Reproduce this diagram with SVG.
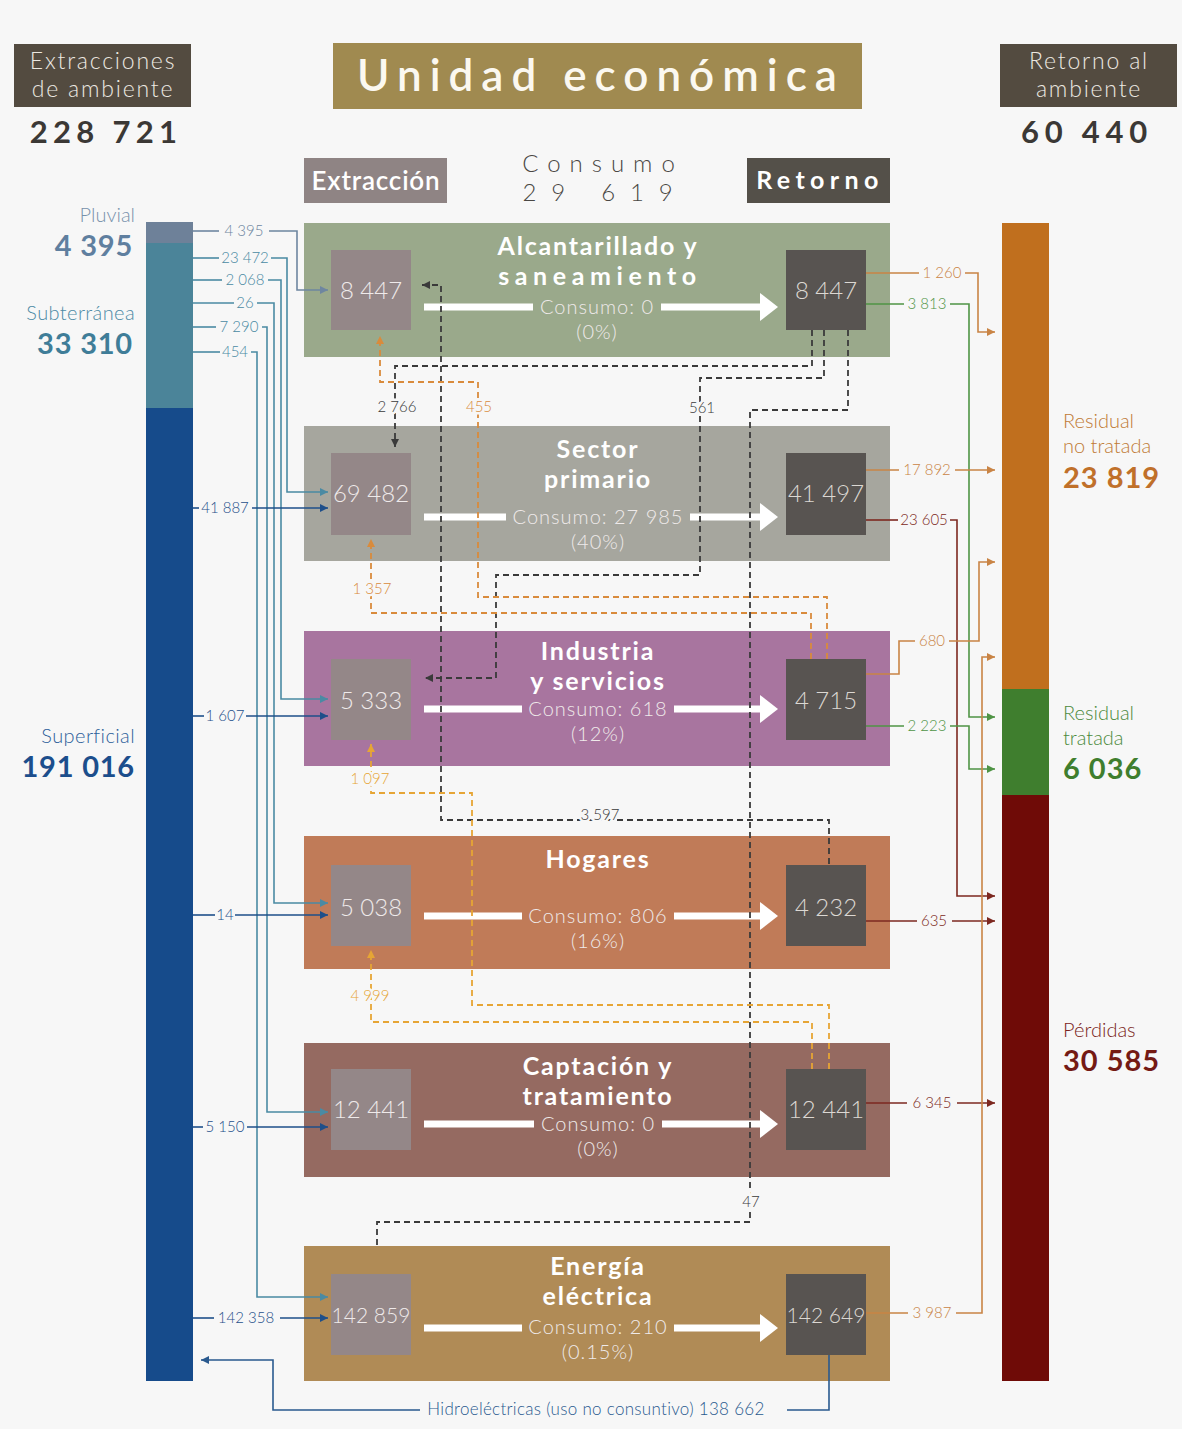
<svg xmlns="http://www.w3.org/2000/svg" width="1182" height="1429" viewBox="0 0 1182 1429">
<defs>
<style>
text{font-family:Lato,'Open Sans','DejaVu Sans',sans-serif}
.hdr{fill:#534b40}
.hdrt{fill:#ece8e0;font-size:23px;font-weight:300;text-anchor:middle;letter-spacing:1.8px}
.big{font-size:31px;font-weight:700;fill:#3b3835;text-anchor:middle}
.ttl{fill:#fff;font-size:25px;font-weight:700;text-anchor:middle;letter-spacing:1.8px}
.num{fill:#efeaea;font-size:24px;font-weight:300;text-anchor:middle}
.numR{fill:#dcd8d3;font-size:24px;font-weight:300;text-anchor:middle}
.con{fill:#efeaea;font-size:20px;font-weight:300;text-anchor:middle;letter-spacing:1px}
.inL{fill:#948788}
.inR{fill:#585451}
.arw{stroke:#fff;stroke-width:7;fill:none}
.ah{fill:#fff}
.ln{fill:none;stroke-width:1.6}
.sm{font-size:15px;text-anchor:middle;font-weight:300}
.dl{fill:none;stroke-width:1.8;stroke-dasharray:6 4}
.halo{stroke:#f7f7f7;stroke-width:5;paint-order:stroke}
.lbl{font-size:20px;font-weight:300}
.lblb{font-size:29px;font-weight:700}
</style>
<marker id="mPl" viewBox="0 0 10 10" refX="10" refY="5" markerWidth="8" markerHeight="8" markerUnits="userSpaceOnUse" orient="auto"><path d="M0,0L10,5L0,10z" fill="#6e86a0"/></marker>
<marker id="mTl" viewBox="0 0 10 10" refX="10" refY="5" markerWidth="8" markerHeight="8" markerUnits="userSpaceOnUse" orient="auto"><path d="M0,0L10,5L0,10z" fill="#4a8aa3"/></marker>
<marker id="mDb" viewBox="0 0 10 10" refX="10" refY="5" markerWidth="8" markerHeight="8" markerUnits="userSpaceOnUse" orient="auto"><path d="M0,0L10,5L0,10z" fill="#1e4f8a"/></marker>
<marker id="mOr" viewBox="0 0 10 10" refX="10" refY="5" markerWidth="8" markerHeight="8" markerUnits="userSpaceOnUse" orient="auto"><path d="M0,0L10,5L0,10z" fill="#c98445"/></marker>
<marker id="mGr" viewBox="0 0 10 10" refX="10" refY="5" markerWidth="8" markerHeight="8" markerUnits="userSpaceOnUse" orient="auto"><path d="M0,0L10,5L0,10z" fill="#4f9445"/></marker>
<marker id="mDr" viewBox="0 0 10 10" refX="10" refY="5" markerWidth="8" markerHeight="8" markerUnits="userSpaceOnUse" orient="auto"><path d="M0,0L10,5L0,10z" fill="#7d2820"/></marker>
<marker id="mBk" viewBox="0 0 10 10" refX="10" refY="5" markerWidth="8" markerHeight="8" markerUnits="userSpaceOnUse" orient="auto"><path d="M0,0L10,5L0,10z" fill="#3a3a3a"/></marker>
<marker id="mOd" viewBox="0 0 10 10" refX="10" refY="5" markerWidth="8" markerHeight="8" markerUnits="userSpaceOnUse" orient="auto"><path d="M0,0L10,5L0,10z" fill="#d98b3c"/></marker>
<marker id="mYd" viewBox="0 0 10 10" refX="10" refY="5" markerWidth="8" markerHeight="8" markerUnits="userSpaceOnUse" orient="auto"><path d="M0,0L10,5L0,10z" fill="#e6a535"/></marker>
<marker id="mHy" viewBox="0 0 10 10" refX="10" refY="5" markerWidth="8" markerHeight="8" markerUnits="userSpaceOnUse" orient="auto"><path d="M0,0L10,5L0,10z" fill="#2a5a8f"/></marker>
</defs>
<rect width="1182" height="1429" fill="#f7f7f7"/>

<g id="header">
<rect class="hdr" x="14" y="44" width="177" height="63"/>
<text class="hdrt"><tspan x="103" y="69">Extracciones</tspan><tspan x="103" y="97">de ambiente</tspan></text>
<text class="big" x="106" y="143" style="letter-spacing:5.3px">228 721</text>
<rect x="333" y="43" width="529" height="66" fill="#a08a50"/>
<text x="601" y="91" style="fill:#fbf8f0;font-size:44px;font-weight:600;text-anchor:middle;letter-spacing:8px">Unidad económica</text>
<rect class="hdr" x="1000" y="44" width="177" height="63"/>
<text class="hdrt"><tspan x="1089" y="69">Retorno al</tspan><tspan x="1089" y="97">ambiente</tspan></text>
<text class="big" x="1087" y="143" style="letter-spacing:5.8px">60 440</text>
<rect x="304" y="158" width="143" height="45" fill="#8f8484"/>
<text x="376" y="190" style="fill:#fff;font-size:26px;font-weight:600;text-anchor:middle;letter-spacing:0.8px">Extracción</text>
<text style="fill:#4a4744;font-size:24px;font-weight:300;text-anchor:middle"><tspan x="603" y="172" style="letter-spacing:9px">Consumo</tspan><tspan x="605" y="201" style="letter-spacing:14.8px">29 619</tspan></text>
<rect x="747" y="158" width="143" height="45" fill="#545049"/>
<text x="820" y="189" style="fill:#fff;font-size:25px;font-weight:700;text-anchor:middle;letter-spacing:5.4px">Retorno</text>
</g>

<g id="extracciones-bar">
<rect x="146" y="222" width="47" height="21" fill="#6e8199"/>
<rect x="146" y="243" width="47" height="165" fill="#4b8499"/>
<rect x="146" y="408" width="47" height="973" fill="#164b8b"/>
<text text-anchor="end"><tspan class="lbl" x="135" y="222" fill="#7791ab">Pluvial</tspan><tspan class="lblb" x="133" y="256" fill="#5f7f9f" style="letter-spacing:0.8px">4 395</tspan></text>
<text text-anchor="end"><tspan class="lbl" x="135" y="320" fill="#4d8aa5" style="letter-spacing:0.4px">Subterránea</tspan><tspan class="lblb" x="133" y="354" fill="#3f7d98" style="letter-spacing:0.8px">33 310</tspan></text>
<text text-anchor="end"><tspan class="lbl" x="135" y="743" fill="#2d5f9a" style="letter-spacing:0.4px">Superficial</tspan><tspan class="lblb" x="135" y="777" fill="#1c4e8c" style="letter-spacing:0.8px">191 016</tspan></text>
</g>

<g id="retorno-bar">
<rect x="1002" y="223" width="47" height="466" fill="#c06f1e"/>
<rect x="1002" y="689" width="47" height="106" fill="#3f7e2e"/>
<rect x="1002" y="795" width="47" height="586" fill="#6f0b07"/>
<text><tspan class="lbl" x="1063" y="428" fill="#c07a35">Residual</tspan><tspan class="lbl" x="1063" y="453" fill="#c07a35">no tratada</tspan><tspan class="lblb" x="1063" y="488" fill="#c0702a" style="letter-spacing:1px">23 819</tspan></text>
<text><tspan class="lbl" x="1063" y="720" fill="#4c8a3c">Residual</tspan><tspan class="lbl" x="1063" y="745" fill="#4c8a3c">tratada</tspan><tspan class="lblb" x="1063" y="779" fill="#3f7e2e" style="letter-spacing:1px">6 036</tspan></text>
<text><tspan class="lbl" x="1063" y="1037" fill="#7a2320">Pérdidas</tspan><tspan class="lblb" x="1063" y="1071" fill="#741a14" style="letter-spacing:1px">30 585</tspan></text>
</g>

<g id="alcantarillado">
<rect x="304" y="223" width="586" height="134" fill="#9aa98b"/>
<rect class="inL" x="331" y="250" width="80" height="80"/>
<rect class="inR" x="786" y="250" width="80" height="80"/>
<text class="num" x="371" y="299">8 447</text>
<text class="numR" x="826" y="299">8 447</text>
<text class="ttl"><tspan x="598" y="255">Alcantarillado y</tspan><tspan x="600" y="285" style="letter-spacing:5.6px">saneamiento</tspan></text>
<path class="arw" d="M424,307H533M661,307H762"/>
<polygon class="ah" points="760,293 778,307 760,321"/>
<text class="con"><tspan x="597" y="314">Consumo: 0</tspan><tspan x="597" y="339">(0%)</tspan></text>
</g>

<g id="sector-primario">
<rect x="304" y="426" width="586" height="135" fill="#a6a69e"/>
<rect class="inL" x="331" y="453" width="80" height="82"/>
<rect class="inR" x="786" y="453" width="80" height="82"/>
<text class="num" x="371" y="502">69 482</text>
<text class="numR" x="826" y="502">41 497</text>
<text class="ttl"><tspan x="598" y="458">Sector</tspan><tspan x="598" y="488">primario</tspan></text>
<path class="arw" d="M424,517H506M690,517H762"/>
<polygon class="ah" points="760,503 778,517 760,531"/>
<text class="con"><tspan x="598" y="524">Consumo: 27 985</tspan><tspan x="598" y="549">(40%)</tspan></text>
</g>

<g id="industria">
<rect x="304" y="631" width="586" height="135" fill="#a8759f"/>
<rect class="inL" x="331" y="659" width="80" height="81"/>
<rect class="inR" x="786" y="659" width="80" height="81"/>
<text class="num" x="371" y="709">5 333</text>
<text class="numR" x="826" y="709">4 715</text>
<text class="ttl"><tspan x="598" y="660">Industria</tspan><tspan x="598" y="690">y servicios</tspan></text>
<path class="arw" d="M424,709H522M674,709H762"/>
<polygon class="ah" points="760,695 778,709 760,723"/>
<text class="con"><tspan x="598" y="716">Consumo: 618</tspan><tspan x="598" y="741">(12%)</tspan></text>
</g>

<g id="hogares">
<rect x="304" y="836" width="586" height="133" fill="#c07b58"/>
<rect class="inL" x="331" y="865" width="80" height="81"/>
<rect class="inR" x="786" y="865" width="80" height="81"/>
<text class="num" x="371" y="916">5 038</text>
<text class="numR" x="826" y="916">4 232</text>
<text class="ttl" x="598" y="868">Hogares</text>
<path class="arw" d="M424,916H522M674,916H762"/>
<polygon class="ah" points="760,902 778,916 760,930"/>
<text class="con"><tspan x="598" y="923">Consumo: 806</tspan><tspan x="598" y="948">(16%)</tspan></text>
</g>

<g id="captacion">
<rect x="304" y="1043" width="586" height="134" fill="#956a61"/>
<rect class="inL" x="331" y="1069" width="80" height="81"/>
<rect class="inR" x="786" y="1069" width="80" height="81"/>
<text class="num" x="371" y="1118">12 441</text>
<text class="numR" x="826" y="1118">12 441</text>
<text class="ttl"><tspan x="598" y="1075">Captación y</tspan><tspan x="598" y="1105">tratamiento</tspan></text>
<path class="arw" d="M424,1124H534M662,1124H762"/>
<polygon class="ah" points="760,1110 778,1124 760,1138"/>
<text class="con"><tspan x="598" y="1131">Consumo: 0</tspan><tspan x="598" y="1156">(0%)</tspan></text>
</g>

<g id="energia">
<rect x="304" y="1246" width="586" height="135" fill="#b08b56"/>
<rect class="inL" x="331" y="1274" width="80" height="81"/>
<rect class="inR" x="786" y="1274" width="80" height="81"/>
<text class="num" x="371" y="1323" style="font-size:21px">142 859</text>
<text class="numR" x="826" y="1323" style="font-size:21px">142 649</text>
<text class="ttl"><tspan x="598" y="1275">Energía</tspan><tspan x="598" y="1305">eléctrica</tspan></text>
<path class="arw" d="M424,1328H522M674,1328H762"/>
<polygon class="ah" points="760,1314 778,1328 760,1342"/>
<text class="con"><tspan x="598" y="1334">Consumo: 210</tspan><tspan x="598" y="1359">(0.15%)</tspan></text>
</g>

<g id="connectors">
<path class="ln" stroke="#6e86a0" d="M193,231H219"/>
<text class="sm" x="244" y="236" fill="#6e86a0">4 395</text>
<path class="ln" stroke="#6e86a0" d="M269,231H297V290H328" marker-end="url(#mPl)"/>
<path class="ln" stroke="#4a8aa3" d="M193,258H219"/>
<text class="sm" x="245" y="263" fill="#4a8aa3">23 472</text>
<path class="ln" stroke="#4a8aa3" d="M271,258H287V492H328" marker-end="url(#mTl)"/>
<path class="ln" stroke="#4a8aa3" d="M193,280H222"/>
<text class="sm" x="245" y="285" fill="#4a8aa3">2 068</text>
<path class="ln" stroke="#4a8aa3" d="M268,280H281V699H328" marker-end="url(#mTl)"/>
<path class="ln" stroke="#4a8aa3" d="M193,303H234"/>
<text class="sm" x="245" y="308" fill="#4a8aa3">26</text>
<path class="ln" stroke="#4a8aa3" d="M257,303H274V903H328" marker-end="url(#mTl)"/>
<path class="ln" stroke="#4a8aa3" d="M193,327H216"/>
<text class="sm" x="239" y="332" fill="#4a8aa3">7 290</text>
<path class="ln" stroke="#4a8aa3" d="M262,327H267V1112H328" marker-end="url(#mTl)"/>
<path class="ln" stroke="#4a8aa3" d="M193,352H220"/>
<text class="sm" x="235" y="357" fill="#4a8aa3">454</text>
<path class="ln" stroke="#4a8aa3" d="M251,352H257V1297H328" marker-end="url(#mTl)"/>
<path class="ln" stroke="#1e4f8a" d="M193,508H199"/>
<text class="sm" x="225" y="513" fill="#1e4f8a">41 887</text>
<path class="ln" stroke="#1e4f8a" d="M252,508H328" marker-end="url(#mDb)"/>
<path class="ln" stroke="#1e4f8a" d="M193,716H204"/>
<text class="sm" x="225" y="721" fill="#1e4f8a">1 607</text>
<path class="ln" stroke="#1e4f8a" d="M246,716H328" marker-end="url(#mDb)"/>
<path class="ln" stroke="#1e4f8a" d="M193,915H215"/>
<text class="sm" x="225" y="920" fill="#1e4f8a">14</text>
<path class="ln" stroke="#1e4f8a" d="M235,915H328" marker-end="url(#mDb)"/>
<path class="ln" stroke="#1e4f8a" d="M193,1127H203"/>
<text class="sm" x="225" y="1132" fill="#1e4f8a">5 150</text>
<path class="ln" stroke="#1e4f8a" d="M247,1127H328" marker-end="url(#mDb)"/>
<path class="ln" stroke="#1e4f8a" d="M193,1318H214"/>
<text class="sm" x="246" y="1323" fill="#1e4f8a">142 358</text>
<path class="ln" stroke="#1e4f8a" d="M280,1318H328" marker-end="url(#mDb)"/>
<path class="ln" stroke="#2a5a8f" d="M829,1355V1410H787"/>
<text x="596" y="1415" style="font-size:17px;font-weight:300;text-anchor:middle;fill:#2a5a8f;letter-spacing:0.3px">Hidroeléctricas (uso no consuntivo) 138 662</text>
<path class="ln" stroke="#2a5a8f" d="M420,1410H273V1360H201" marker-end="url(#mHy)"/>
<path class="ln" stroke="#c98445" d="M866,273H919"/>
<text class="sm" x="942" y="278" fill="#c98445">1 260</text>
<path class="ln" stroke="#c98445" d="M965,273H978V332H995" marker-end="url(#mOr)"/>
<path class="ln" stroke="#4f9445" d="M866,304H904"/>
<text class="sm" x="927" y="309" fill="#4f9445">3 813</text>
<path class="ln" stroke="#4f9445" d="M950,304H969V717H995" marker-end="url(#mGr)"/>
<path class="ln" stroke="#c98445" d="M866,470H899"/>
<text class="sm" x="927" y="475" fill="#c98445">17 892</text>
<path class="ln" stroke="#c98445" d="M955,470H995" marker-end="url(#mOr)"/>
<path class="ln" stroke="#7d2820" d="M866,520H898"/>
<text class="sm" x="924" y="525" fill="#7d2820">23 605</text>
<path class="ln" stroke="#7d2820" d="M950,520H957V896H995" marker-end="url(#mDr)"/>
<path class="ln" stroke="#c98445" d="M866,674H899V641H915"/>
<text class="sm" x="932" y="646" fill="#c98445">680</text>
<path class="ln" stroke="#c98445" d="M949,641H979V562H995" marker-end="url(#mOr)"/>
<path class="ln" stroke="#4f9445" d="M866,726H904"/>
<text class="sm" x="927" y="731" fill="#4f9445">2 223</text>
<path class="ln" stroke="#4f9445" d="M950,726H969V769H995" marker-end="url(#mGr)"/>
<path class="ln" stroke="#7d2820" d="M866,921H917"/>
<text class="sm" x="934" y="926" fill="#7d2820">635</text>
<path class="ln" stroke="#7d2820" d="M952,921H995" marker-end="url(#mDr)"/>
<path class="ln" stroke="#7d2820" d="M866,1103H907"/>
<text class="sm" x="932" y="1108" fill="#7d2820">6 345</text>
<path class="ln" stroke="#7d2820" d="M957,1103H995" marker-end="url(#mDr)"/>
<path class="ln" stroke="#c98445" d="M866,1313H908"/>
<text class="sm" x="932" y="1318" fill="#c98445">3 987</text>
<path class="ln" stroke="#c98445" d="M956,1313H982V657H995" marker-end="url(#mOr)"/>
<path class="dl" stroke="#3a3a3a" d="M812,330V366H395V447" marker-end="url(#mBk)"/>
<text class="sm halo" x="397" y="412" fill="#3a3a3a">2 766</text>
<path class="dl" stroke="#3a3a3a" d="M824,330V378H700V575H496V678H425" marker-end="url(#mBk)"/>
<text class="sm halo" x="702" y="413" fill="#3a3a3a">561</text>
<path class="dl" stroke="#3a3a3a" d="M848,330V410H750V1222H377V1246"/>
<text class="sm halo" x="751" y="1207" fill="#3a3a3a">47</text>
<path class="dl" stroke="#3a3a3a" d="M829,864V820H441V285H422" marker-end="url(#mBk)"/>
<text class="sm halo" x="600" y="820" fill="#3a3a3a">3 597</text>
<path class="dl" stroke="#d98b3c" d="M827,659V597H478V382H380V336" marker-end="url(#mOd)"/>
<text class="sm halo" x="479" y="412" fill="#d98b3c">455</text>
<path class="dl" stroke="#d98b3c" d="M811,659V613H371V539" marker-end="url(#mOd)"/>
<text class="sm halo" x="372" y="594" fill="#d98b3c">1 357</text>
<path class="dl" stroke="#e6a535" d="M829,1069V1005H472V793H371V744" marker-end="url(#mYd)"/>
<text class="sm halo" x="370" y="784" fill="#e6a535">1 097</text>
<path class="dl" stroke="#e6a535" d="M812,1069V1022H371V950" marker-end="url(#mYd)"/>
<text class="sm halo" x="370" y="1001" fill="#e6a535">4 999</text>
</g>
</svg>
